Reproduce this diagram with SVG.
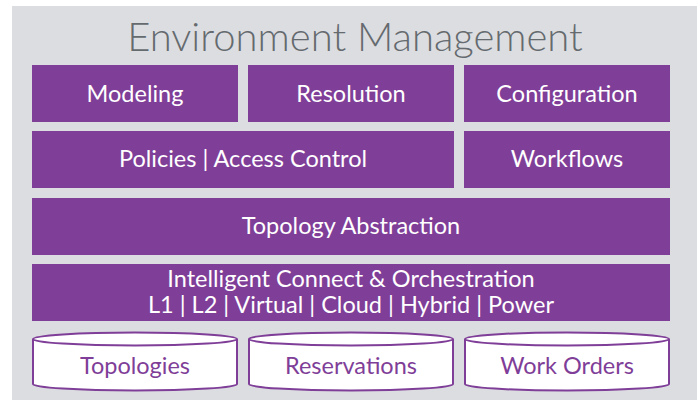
<svg xmlns="http://www.w3.org/2000/svg" width="697" height="400" viewBox="0 0 697 400">
<style>
.box{fill:#7f3e98}
.lbl{font-family:Lato,"Open Sans","Liberation Sans",sans-serif;font-size:23.5px;fill:#ffffff;text-anchor:middle}
.db{fill:#ffffff;stroke:#7f3e98;stroke-width:2}
.dbl{font-family:Lato,"Open Sans","Liberation Sans",sans-serif;font-size:23.5px;fill:#7f3e98;text-anchor:middle}
.title{font-family:Lato,"Open Sans","Liberation Sans",sans-serif;font-size:40px;font-weight:300;fill:#646a6e;text-anchor:middle}
</style>
<rect x="0" y="0" width="697" height="400" fill="#ffffff"/>
<rect x="12" y="6" width="685" height="394" fill="#dcdde1"/>
<text class="title" x="355" y="51">Environment Management</text>
<g id="modeling"><rect class="box" x="32" y="65" width="206" height="57"/><text class="lbl" x="135" y="102">Modeling</text></g>
<g id="resolution"><rect class="box" x="248" y="65" width="206" height="57"/><text class="lbl" x="351" y="102">Resolution</text></g>
<g id="configuration"><rect class="box" x="464" y="65" width="206" height="57"/><text class="lbl" x="567" y="102">Configuration</text></g>
<g id="policies"><rect class="box" x="32" y="131" width="422" height="57"/><text class="lbl" x="243" y="167">Policies | Access Control</text></g>
<g id="workflows"><rect class="box" x="464" y="131" width="206" height="57"/><text class="lbl" x="567" y="167">Workflows</text></g>
<g id="topology-abstraction"><rect class="box" x="32" y="198" width="638" height="57"/><text class="lbl" x="351" y="234">Topology Abstraction</text></g>
<g id="intelligent-connect"><rect class="box" x="32" y="264" width="638" height="57"/><text class="lbl" x="351" y="287">Intelligent Connect &amp; Orchestration</text><text class="lbl" x="351" y="313">L1 | L2 | Virtual | Cloud | Hybrid | Power</text></g>
<g id="topologies"><path class="db" d="M33,339 L33,384 A102,6.5 0 0 0 237,384 L237,339"/><ellipse class="db" cx="135" cy="339" rx="102" ry="6.5"/><text class="dbl" x="135" y="374">Topologies</text></g>
<g id="reservations"><path class="db" d="M249,339 L249,384 A102,6.5 0 0 0 453,384 L453,339"/><ellipse class="db" cx="351" cy="339" rx="102" ry="6.5"/><text class="dbl" x="351" y="374">Reservations</text></g>
<g id="work-orders"><path class="db" d="M465,339 L465,384 A102,6.5 0 0 0 669,384 L669,339"/><ellipse class="db" cx="567" cy="339" rx="102" ry="6.5"/><text class="dbl" x="567" y="374">Work Orders</text></g>
<g id="connectors"></g>
</svg>
